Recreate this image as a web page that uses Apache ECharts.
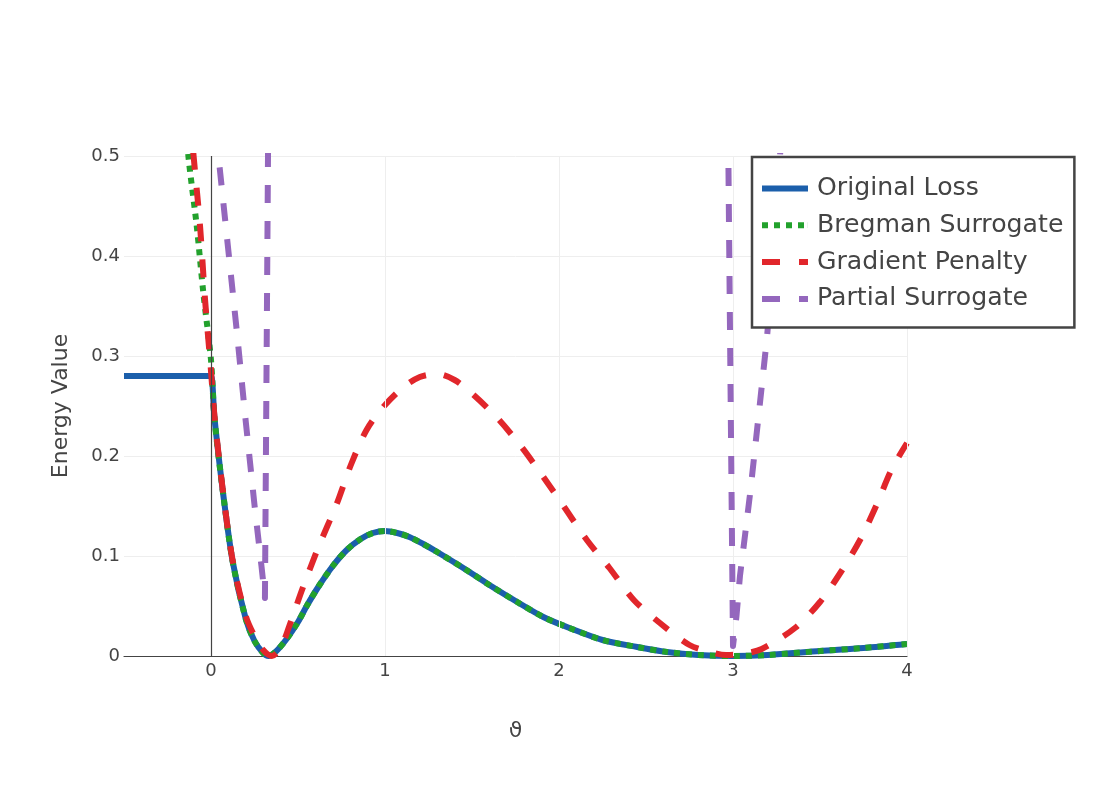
<!DOCTYPE html>
<html>
<head>
<meta charset="utf-8">
<script src="https://cdn.jsdelivr.net/npm/echarts@6/dist/echarts.min.js"></script>
<style>
html,body{margin:0;padding:0;background:#fff;}
#chart{width:1103px;height:790px;}
</style>
</head>
<body>
<div id="chart"></div>
<script>
// ---- Data ----
const originalX = [-0.5, -0.02, 0, 0.02, 0.07, 0.125, 0.2, 0.25, 0.3, 0.33, 0.37, 0.43, 0.5, 0.55, 0.62, 0.7, 0.78, 0.86, 0.93, 1.0, 1.07, 1.14, 1.22, 1.3, 1.45, 1.6, 1.76, 1.91, 2.06, 2.25, 2.45, 2.62, 2.8, 3.0, 3.2, 3.5, 3.75, 4.0];
const originalY = [0.28, 0.28, 0.28, 0.238, 0.162, 0.094, 0.037, 0.015, 0.003, 0.0, 0.004, 0.016, 0.034, 0.050, 0.070, 0.090, 0.106, 0.117, 0.123, 0.125, 0.123, 0.119, 0.112, 0.104, 0.088, 0.071, 0.054, 0.039, 0.028, 0.016, 0.009, 0.004, 0.001, 0.0, 0.001, 0.005, 0.008, 0.012];

const bregmanX = [-0.15, -0.13, -0.082, -0.044, 0.0, 0.02, 0.07, 0.125, 0.2, 0.25, 0.3, 0.33, 0.37, 0.43, 0.5, 0.55, 0.62, 0.7, 0.78, 0.86, 0.93, 1.0, 1.07, 1.14, 1.22, 1.3, 1.45, 1.6, 1.76, 1.91, 2.06, 2.25, 2.45, 2.62, 2.8, 3.0, 3.2, 3.5, 3.75, 4.0];
const bregmanY = [0.55, 0.5, 0.43, 0.363, 0.296, 0.238, 0.162, 0.094, 0.037, 0.015, 0.003, 0.0, 0.004, 0.016, 0.034, 0.050, 0.070, 0.090, 0.106, 0.117, 0.123, 0.125, 0.123, 0.119, 0.112, 0.104, 0.088, 0.071, 0.054, 0.039, 0.028, 0.016, 0.009, 0.004, 0.001, 0.0, 0.001, 0.005, 0.008, 0.012];

const gradientX = [-0.12, -0.10, -0.063, -0.034, 0.0, 0.02, 0.07, 0.125, 0.2, 0.25, 0.3, 0.35, 0.4, 0.45, 0.525, 0.62, 0.72, 0.806, 0.894, 0.99, 1.1, 1.2, 1.3, 1.4, 1.49, 1.64, 1.785, 1.91, 2.03, 2.16, 2.29, 2.43, 2.58, 2.75, 2.87, 2.96, 3.05, 3.165, 3.356, 3.5, 3.62, 3.73, 3.825, 3.91, 4.0];
const gradientY = [0.54, 0.5, 0.43, 0.356, 0.285, 0.24, 0.163, 0.095, 0.04, 0.02, 0.006, 0.0, 0.008, 0.03, 0.067, 0.11, 0.151, 0.192, 0.226, 0.249, 0.268, 0.279, 0.282, 0.276, 0.264, 0.239, 0.209, 0.179, 0.149, 0.116, 0.088, 0.056, 0.033, 0.011, 0.004, 0.001, 0.002, 0.007, 0.028, 0.054, 0.084, 0.116, 0.151, 0.186, 0.213];

const partialX = [0.0, 0.05, 0.10, 0.15, 0.20, 0.25, 0.29, 0.31, 0.33, 1.5, 2.97, 3.0, 3.02, 3.04, 3.07, 3.10, 3.15, 3.195, 3.235, 3.27, 3.3];
const partialY = [0.56, 0.488, 0.405, 0.322, 0.234, 0.151, 0.090, 0.058, 0.56, null, 0.56, 0.01, 0.04, 0.08, 0.122, 0.165, 0.245, 0.318, 0.40, 0.50, 0.57];

const xTicks = [0, 1, 2, 3, 4];
const yTicks = [0, 0.1, 0.2, 0.3, 0.4, 0.5];
const seriesNames = ['Original Loss', 'Bregman Surrogate', 'Gradient Penalty', 'Partial Surrogate'];

// ---- Build ----
const pairs = (xs, ys) => xs.map((x, i) => [x, ys[i] === null ? '-' : ys[i]]);
const FONT = 'DejaVu Sans';
const TXT = '#444';
const COLORS = ['#1b5fab', '#22a12c', '#e1262b', '#9467bd'];
const ICONS = [
  'path://M0,0H46V6H0Z',
  'path://M0,0h6v6h-6z M12,0h6v6h-6z M24,0h6v6h-6z M36,0h6v6h-6z M45.9,0h0.1v6h-0.1z',
  'path://M0,0h18v6h-18z M37,0h9v6h-9z',
  'path://M0,0h18v6h-18z M37,0h9v6h-9z'
];

const chart = echarts.init(document.getElementById('chart'), null, {renderer: 'canvas'});

const mk = (name, data, color, type, z, smooth) => ({
  name, type: 'line', data, showSymbol: false, symbol: 'none',
  clip: true, z, connectNulls: false, smooth: smooth,
  lineStyle: {color, width: 6, type, cap: 'butt', join: 'round'},
  itemStyle: {color},
  emphasis: {disabled: true}
});

const option = {
  animation: false,
  backgroundColor: '#fff',
  textStyle: {fontFamily: FONT},
  grid: {left: 124, right: 196, top: 156, bottom: 134, containLabel: false},
  xAxis: {
    type: 'value', min: -0.5, max: 4, interval: 0.5,
    name: 'ϑ', nameLocation: 'middle', nameGap: 64,
    nameTextStyle: {fontSize: 22, color: TXT, fontFamily: FONT},
    axisLine: {show: true, onZero: false, lineStyle: {color: TXT, width: 1.2}},
    axisTick: {show: false},
    splitLine: {show: false},
    axisLabel: {
      fontSize: 18, color: TXT, fontFamily: FONT, margin: 6,
      showMinLabel: true, showMaxLabel: true,
      formatter: v => (xTicks.indexOf(Math.round(v * 1000) / 1000) >= 0 ? String(Math.round(v)) : '')
    }
  },
  yAxis: {
    type: 'value', min: 0, max: 0.5, interval: 0.1,
    name: 'Energy Value', nameLocation: 'middle', nameGap: 52,
    nameTextStyle: {fontSize: 22, color: TXT, fontFamily: FONT},
    axisLine: {show: false},
    axisTick: {show: false},
    splitLine: {show: true, lineStyle: {color: '#eeeeee', width: 1}},
    axisLabel: {
      fontSize: 18, color: TXT, fontFamily: FONT, margin: 4,
      formatter: v => {
        const r = Math.round(v * 10) / 10;
        return yTicks.indexOf(r) >= 0 ? String(r) : '';
      }
    }
  },
  legend: {
    data: seriesNames.map((n, i) => ({name: n, icon: ICONS[i], itemStyle: {color: COLORS[i]}})),
    orient: 'vertical', left: 752, top: 157, z: 20,
    backgroundColor: '#ffffff', borderColor: '#444', borderWidth: 2.5,
    padding: [19, 11, 16, 10],
    itemWidth: 46, itemHeight: 6, itemGap: 11.8,
    textStyle: {fontSize: 25.2, color: TXT, fontFamily: FONT, padding: [0, 0, 0, 4]},
    selectedMode: false
  },
  series: [
    {
      type: 'line', data: [], z: 0, silent: true,
      markLine: {
        silent: true, symbol: 'none', label: {show: false}, animation: false,
        lineStyle: {color: '#eeeeee', width: 1, type: 'solid'},
        data: xTicks.filter(v => v !== 0).map(v => ({xAxis: v}))
      }
    },
    {
      type: 'line', data: [], z: 1, silent: true,
      markLine: {
        silent: true, symbol: 'none', label: {show: false}, animation: false,
        lineStyle: {color: TXT, width: 1.2, type: 'solid'},
        data: [{xAxis: 0}]
      }
    },
    mk(seriesNames[0], pairs(originalX, originalY), COLORS[0], 'solid', 2, 0.3),
    mk(seriesNames[1], pairs(bregmanX, bregmanY), COLORS[1], [6, 6], 3, 0.3),
    mk(seriesNames[2], pairs(gradientX, gradientY), COLORS[2], [18, 18], 4, 0.3),
    mk(seriesNames[3], pairs(partialX, partialY), COLORS[3], [18, 18], 5, false)
  ]
};
chart.setOption(option);
</script>
</body>
</html>
